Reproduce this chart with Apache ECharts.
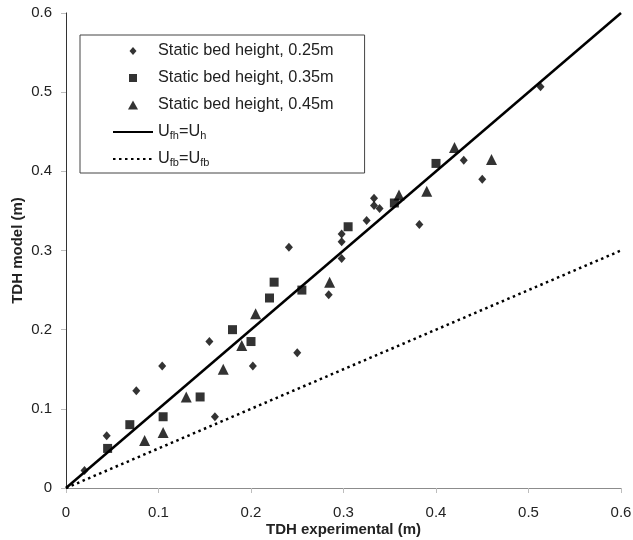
<!DOCTYPE html>
<html>
<head>
<meta charset="utf-8">
<script src="https://cdn.jsdelivr.net/npm/echarts@6/dist/echarts.min.js"></script>
<style>html,body{margin:0;padding:0;background:#fff;}#c{width:633px;height:540px;}</style>
</head>
<body>
<div id="c"></div>
<script>
var seriesNames = ['Static bed height, 0.25m', 'Static bed height, 0.35m', 'Static bed height, 0.45m', 'Ufh=Uh', 'Ufb=Ufb'];
var bed025 = [[0.02,0.022],[0.044,0.066],[0.076,0.123],[0.104,0.154],[0.155,0.185],[0.161,0.090],[0.202,0.154],[0.241,0.304],[0.250,0.171],[0.284,0.244],[0.298,0.321],[0.298,0.311],[0.298,0.290],[0.325,0.338],[0.333,0.366],[0.333,0.357],[0.339,0.353],[0.382,0.333],[0.430,0.414],[0.450,0.390],[0.513,0.507]];
var bed035 = [[0.045,0.050],[0.069,0.080],[0.105,0.090],[0.145,0.115],[0.180,0.200],[0.200,0.185],[0.220,0.240],[0.225,0.260],[0.255,0.250],[0.305,0.330],[0.355,0.360],[0.400,0.410]];
var bed045 = [[0.085,0.060],[0.105,0.070],[0.130,0.115],[0.170,0.150],[0.190,0.180],[0.205,0.220],[0.285,0.260],[0.360,0.370],[0.390,0.375],[0.420,0.430],[0.460,0.415]];
var lineFh = [[0,0],[0.6,0.6]];
var lineFb = [[0,0],[0.6,0.3]];

var FONT = '"Liberation Sans", Arial, sans-serif';
var chart = echarts.init(document.getElementById('c'), null, {renderer:'canvas'});
var axisCommon = {
  type:'value', min:0, max:0.6, interval:0.1,
  nameMoveOverlap:false,
  axisLine:{show:true, onZero:false, lineStyle:{color:'#bdbdbd', width:1}},
  axisTick:{show:true, length:5, lineStyle:{color:'#bdbdbd'}},
  splitLine:{show:false},
  axisLabel:{color:'#222', fontFamily:FONT, fontSize:15, formatter:function(v){return String(Math.round(v*10)/10);}},
  nameTextStyle:{color:'#222', fontFamily:FONT, fontSize:15, fontWeight:'bold'}
};
var ANCH = 'M0,0L0,0M40,9L40,9';
var transparentStyle = {color:'rgba(0,0,0,0)', borderColor:'rgba(0,0,0,0)', borderWidth:0};
var option = {
  animation:false,
  backgroundColor:'#fff',
  grid:{left:66, right:12, top:13, bottom:52, containLabel:false, outerBoundsMode:'none'},
  xAxis:[
    Object.assign({}, axisCommon, {position:'bottom', name:'TDH experimental (m)', nameLocation:'middle', nameGap:34, axisLabel:Object.assign({}, axisCommon.axisLabel, {margin:17})}),
    {type:'value', min:0, max:0.6, position:'top', axisLine:{show:true, lineStyle:{color:'#8c8c8c'}}, axisTick:{show:false}, axisLabel:{show:false}, splitLine:{show:false}}
  ],
  yAxis:[
    Object.assign({}, axisCommon, {position:'left', name:'TDH model (m)', nameLocation:'middle', nameGap:41, nameRotate:90, axisLabel:Object.assign({}, axisCommon.axisLabel, {margin:14})}),
    {type:'value', min:0, max:0.6, position:'right', axisLine:{show:true, lineStyle:{color:'#333'}}, axisTick:{show:false}, axisLabel:{show:false}, splitLine:{show:false}}
  ],
  legend:{
    orient:'vertical', left:80, top:35,
    backgroundColor:'#fff', borderColor:'#444', borderWidth:1, borderRadius:0,
    padding:[7,31,5,32], itemGap:9, itemWidth:40, itemHeight:9,
    data:[
      {name:seriesNames[0], icon:'path://' + ANCH + 'M16.5,4.5L20,0.5L23.5,4.5L20,8.5Z'},
      {name:seriesNames[1], icon:'path://' + ANCH + 'M16,0.5L24,0.5L24,8.5L16,8.5Z'},
      {name:seriesNames[2], icon:'path://' + ANCH + 'M15,9L20,0L25,9Z'},
      {name:seriesNames[3], itemStyle:transparentStyle},
      {name:seriesNames[4], itemStyle:transparentStyle}
    ],
    formatter:function(n){
      if(n==='Ufh=Uh') return '{m|U}{s|fh}{m|=U}{s|h}';
      if(n==='Ufb=Ufb') return '{m|U}{s|fb}{m|=U}{s|fb}';
      return n;
    },
    textStyle:{color:'#222', fontFamily:FONT, fontSize:16.3, lineHeight:18,
      rich:{m:{fontFamily:FONT, fontSize:16.3, color:'#222', lineHeight:18},
            s:{fontFamily:FONT, fontSize:11, color:'#222', verticalAlign:'bottom', padding:[6,0,0,0], lineHeight:18}}}
  },
  series:[
    {name:seriesNames[3], type:'line', data:lineFh, symbol:'none', lineStyle:{color:'#000', width:2.5}, itemStyle:{color:'#000'}, z:3},
    {name:seriesNames[4], type:'line', data:lineFb, symbol:'none', lineStyle:{color:'#000', width:2.5, type:[2.5,3.5]}, itemStyle:{color:'#000'}, z:3},
    {name:seriesNames[0], type:'scatter', data:bed025, symbol:'diamond', symbolSize:[8,9], itemStyle:{color:'#000'}, z:4},
    {name:seriesNames[1], type:'scatter', data:bed035, symbol:'rect', symbolSize:9, itemStyle:{color:'#000'}, z:4},
    {name:seriesNames[2], type:'scatter', data:bed045, symbol:'triangle', symbolSize:11, itemStyle:{color:'#000'}, z:4}
  ]
};
chart.setOption(option);
</script>
</body>
</html>
